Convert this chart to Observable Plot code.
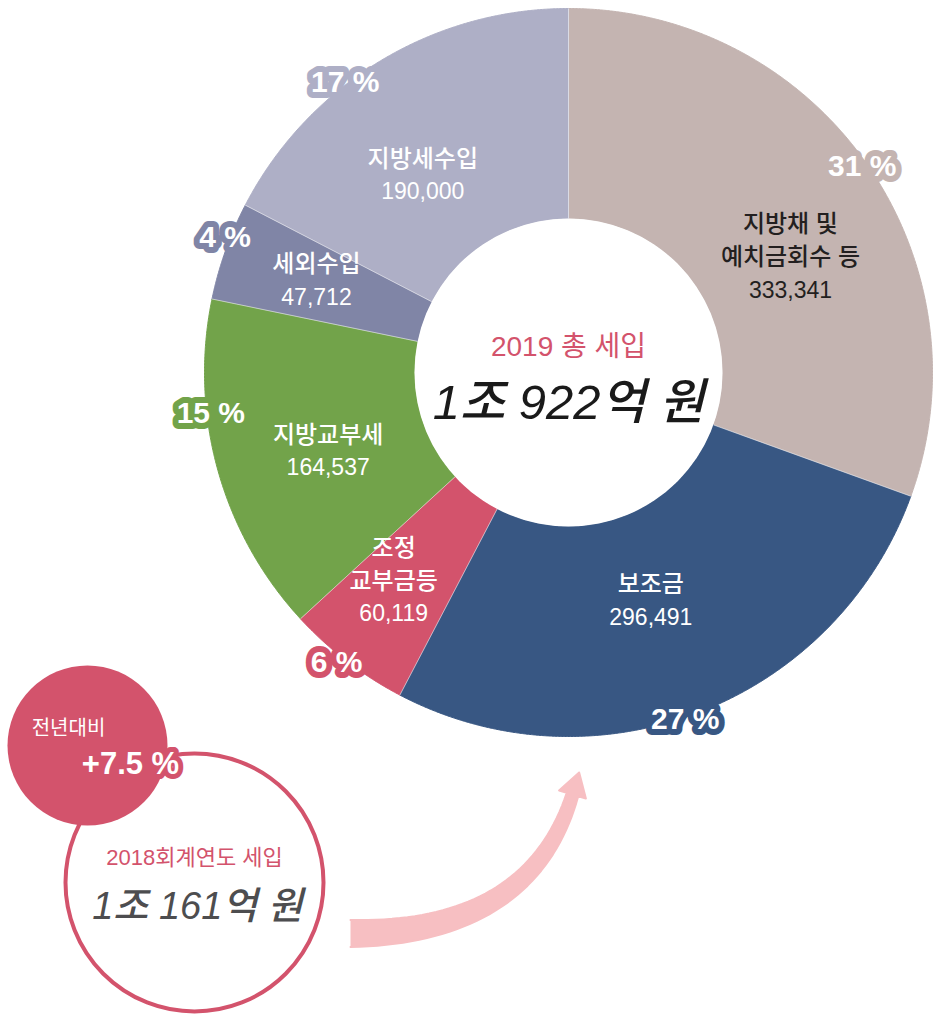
<!DOCTYPE html>
<html><head><meta charset="utf-8">
<script src="https://cdn.jsdelivr.net/npm/d3@7"></script>
<script src="https://cdn.jsdelivr.net/npm/@observablehq/plot@0.6"></script>
<style>html,body{margin:0;padding:0;background:#fff} svg{display:block}</style>
</head><body><div id="chart"></div>
<script>
// ---- data ----
const categories = ["지방채 및\n예치금회수 등", "보조금", "조정\n교부금등", "지방교부세", "세외수입", "지방세수입"];
const values = [333341, 296491, 60119, 164537, 47712, 190000];
const percents = [31, 27, 6, 15, 4, 17];
const totalTitle = "2019 총 세입";
const totalLabel = "1조 922억 원";
const prevTitle = "2018회계연도 세입";
const prevLabel = "1조 161억 원";
const changeTitle = "전년대비";
const changeLabel = "+7.5 %";

// ---- styles / layout ----
const colors = ["#c4b4b1", "#385783", "#d3536c", "#72a34a", "#8085a6", "#aeafc6"];
const textColors = ["#231f20", "#ffffff", "#ffffff", "#ffffff", "#ffffff", "#ffffff"];
const PINK = "#d3536c";
const W = 949, H = 1014;
const C = {x: 568, y: 372}, R = 364, R0 = 154;
const badgeAngle = [54.9, 161.4, 218.7, 263.5, 291.5, 322.4];
const badgeRadius = [359, 366, 371, 360, 369, 366];
const labelAngle = [62.6, 160.2, 220, 251.8, 289.9, 323.5];
const labelRadius = [250, 243, 272, 253, 268, 245];
const LINE = 33;
const bottom = {pink: {x: 87, y: 745, r: 80}, ring: {x: 194, y: 882, r: 129}};
const arrowShape = {p0: [350, 933], p1: [530, 933], p2: [572, 794], w0: 27, w1: 12, headW: 28, headL: 23};

const rad = d => d * Math.PI / 180;
const polar = (a, r) => ({x: C.x + r * Math.sin(a), y: C.y - r * Math.cos(a)});

// ---- geometry from data ----
const arcs = d3.pie().sort(null)(values);
const slicePts = [];
arcs.forEach((a, i) => {
  const n = Math.max(4, Math.ceil((a.endAngle - a.startAngle) / 0.004));
  for (let k = 0; k <= n; k++) slicePts.push({i, ...polar(a.startAngle + (a.endAngle - a.startAngle) * k / n, R)});
  for (let k = n; k >= 0; k--) slicePts.push({i, ...polar(a.startAngle + (a.endAngle - a.startAngle) * k / n, R0)});
});
const bounds = arcs.map(a => {
  const p = polar(a.startAngle, R0), q = polar(a.startAngle, R);
  return {x1: p.x, y1: p.y, x2: q.x, y2: q.y};
});
const badges = percents.map((p, i) => ({i, text: `${p} %`, ...polar(rad(badgeAngle[i]), badgeRadius[i])}));
const labelLines = [];
categories.forEach((c, i) => {
  const lines = c.split("\n").map(t => ({t, v: false}));
  lines.push({t: d3.format(",")(values[i]), v: true});
  const center = polar(rad(labelAngle[i]), labelRadius[i]);
  lines.forEach((l, k) => labelLines.push({
    i, text: l.t, value: l.v, x: center.x, y: center.y + (k - (lines.length - 1) / 2) * LINE
  }));
});

// tapered curved arrow outline
function arrowOutline(s) {
  const {p0, p1, p2, w0, w1, headW, headL} = s;
  const B = t => [0, 1].map(j => (1 - t) ** 2 * p0[j] + 2 * (1 - t) * t * p1[j] + t * t * p2[j]);
  const D = t => [0, 1].map(j => 2 * (1 - t) * (p1[j] - p0[j]) + 2 * t * (p2[j] - p1[j]));
  const left = [], right = [];
  const N = 40;
  for (let k = 0; k <= N; k++) {
    const t = k / N, b = B(t), d = D(t), L = Math.hypot(d[0], d[1]);
    const n = [-d[1] / L, d[0] / L], w = (w0 + (w1 - w0) * t) / 2;
    left.push({x: b[0] + n[0] * w, y: b[1] + n[1] * w});
    right.push({x: b[0] - n[0] * w, y: b[1] - n[1] * w});
  }
  const d = D(1), L = Math.hypot(d[0], d[1]), u = [d[0] / L, d[1] / L], n = [-u[1], u[0]];
  const head = [
    {x: p2[0] + n[0] * headW / 2, y: p2[1] + n[1] * headW / 2},
    {x: p2[0] + u[0] * headL, y: p2[1] + u[1] * headL},
    {x: p2[0] - n[0] * headW / 2, y: p2[1] - n[1] * headW / 2}
  ];
  return [...left, ...head, ...right.reverse()];
}
const arrowPts = arrowOutline(arrowShape);

const FONT = "'Liberation Sans', 'Noto Sans CJK KR', sans-serif";

const plot = Plot.plot({
  width: W, height: H, margin: 0,
  x: {domain: [0, W], range: [0, W], axis: null},
  y: {domain: [0, H], range: [0, H], axis: null},
  color: {type: "identity"},
  style: {fontFamily: FONT, background: "white", overflow: "visible"},
  marks: [
    // bottom-left comparison circles
    Plot.dot([bottom.ring], {x: "x", y: "y", r: bottom.ring.r, fill: "white", stroke: PINK, strokeWidth: 4, ariaLabel: "ring2018"}),
    Plot.line(arrowPts, {x: "x", y: "y", fill: "#f7bfc2", stroke: "#f7bfc2", strokeWidth: 2, strokeLinejoin: "round", curve: "linear"}),
    Plot.dot([bottom.pink], {x: "x", y: "y", r: bottom.pink.r, fill: PINK}),
    Plot.text([bottom.pink], {x: d => d.x - 19, y: d => d.y - 17, text: () => changeTitle, fill: "white", fontSize: 20, fontFamily: "'Noto Sans CJK KR', sans-serif"}),
    Plot.text([bottom.pink], {x: d => d.x + 43, y: d => d.y + 19, text: () => changeLabel, fill: "white", stroke: PINK, strokeWidth: 10, strokeLinejoin: "round", paintOrder: "stroke", fontSize: 31, fontWeight: "bold", ariaLabel: "change"}),
    Plot.text([bottom.ring], {x: "x", y: d => d.y - 25, text: () => prevTitle, fill: PINK, fontSize: 22}),
    Plot.text([bottom.ring], {x: d => d.x + 3, y: d => d.y + 24, text: () => prevLabel, fill: "#4d4d4f", fontSize: 38, fontStyle: "italic", fontWeight: 500}),

    // donut
    Plot.dot([C], {x: "x", y: "y", r: R + 15, fill: "white", ariaLabel: "outerring"}),
    Plot.line(slicePts, {x: "x", y: "y", z: "i", fill: d => colors[d.i], stroke: d => colors[d.i], strokeWidth: 1, curve: "linear"}),
    Plot.link(bounds, {x1: "x1", y1: "y1", x2: "x2", y2: "y2", stroke: "white", strokeOpacity: 0.55, strokeWidth: 1}),
    Plot.dot([C], {x: "x", y: "y", r: R0, fill: "white", ariaLabel: "hole"}),
    Plot.text([C], {x: "x", y: d => d.y - 25, text: () => totalTitle, fill: PINK, fontSize: 28}),
    Plot.text([C], {x: "x", y: d => d.y + 31, text: () => totalLabel, fill: "#1a1a1a", fontSize: 49, fontStyle: "italic", fontWeight: 500}),

    // slice labels
    Plot.text(labelLines, {x: "x", y: "y", text: "text", fill: d => textColors[d.i], fontSize: d => d.value ? 23 : 24, fontWeight: 500}),

    // percentage badges
    Plot.text(badges, {x: "x", y: "y", text: "text", fill: "white", stroke: d => colors[d.i], strokeWidth: 12, strokeLinejoin: "round", paintOrder: "stroke", fontSize: 30, fontWeight: "bold", ariaLabel: "badges"})
  ]
});

document.getElementById("chart").appendChild(plot);

// ---- cosmetic effects: shadows and smaller % glyph ----
const svg = d3.select(plot);
const defs = svg.insert("defs", ":first-child");
function shadow(id, dx, dy, sd, op) {
  defs.append("filter").attr("id", id).attr("x", "-30%").attr("y", "-30%").attr("width", "160%").attr("height", "160%")
    .append("feDropShadow").attr("dx", dx).attr("dy", dy).attr("stdDeviation", sd)
    .attr("flood-color", "#000").attr("flood-opacity", op);
}
shadow("sh-ring", 5, 8, 8, 0.33);
shadow("sh-hole", 2, 3, 5, 0.25);
shadow("sh-badge", 3, 4, 3, 0.35);
shadow("sh-small", 4, 4, 6, 0.22);
svg.selectAll('g[aria-label="outerring"]').attr("filter", "url(#sh-ring)");
svg.selectAll('g[aria-label="hole"]').attr("filter", "url(#sh-hole)");
svg.selectAll('g[aria-label="badges"], g[aria-label="change"]').attr("filter", "url(#sh-badge)");
svg.selectAll('g[aria-label="ring2018"]').attr("filter", "url(#sh-small)");
svg.selectAll('g[aria-label="badges"] text, g[aria-label="change"] text').each(function () {
  const t = this.textContent;
  const idx = t.indexOf("%");
  if (idx < 0) return;
  this.textContent = "";
  d3.select(this).append("tspan").text(t.slice(0, idx));
  d3.select(this).append("tspan").attr("font-size", "0.8em").text("%");
});
</script>
</body></html>
